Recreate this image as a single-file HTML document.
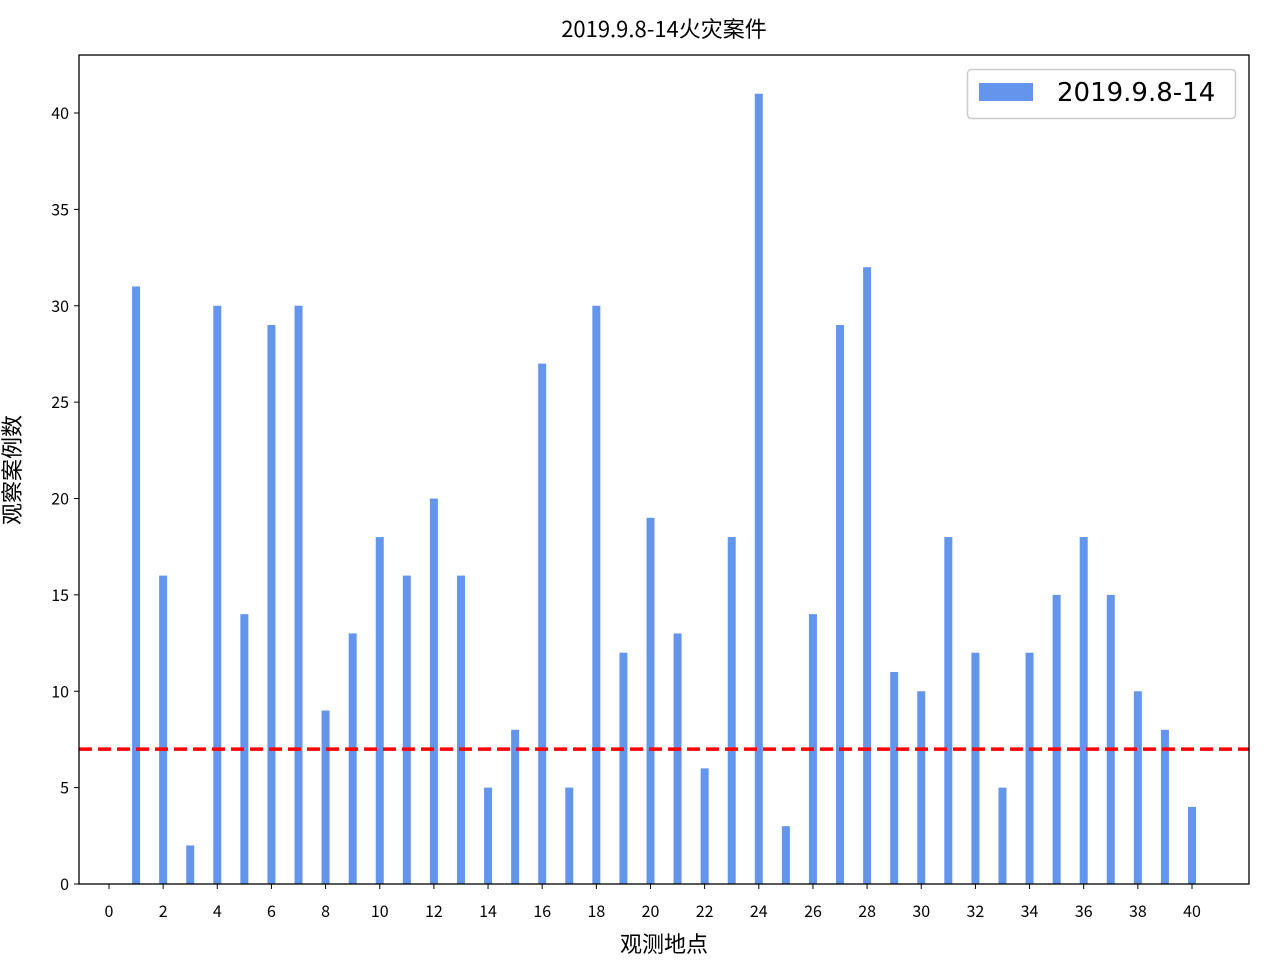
<!DOCTYPE html>
<html><head><meta charset="utf-8"><style>
body{margin:0;background:#fff}
svg text{font-family:"WenQuanYi Zen Hei","Noto Sans CJK SC",sans-serif;fill:#000}
svg text.leg{font-family:"DejaVu Sans",sans-serif}
</style></head><body>
<svg id="chart" width="1280" height="960" xmlns="http://www.w3.org/2000/svg">
<rect width="1280" height="960" fill="#fff"/>
<g id="plot"></g>
</svg>
<script>
const categories=[1,2,3,4,5,6,7,8,9,10,11,12,13,14,15,16,17,18,19,20,21,22,23,24,25,26,27,28,29,30,31,32,33,34,35,36,37,38,39,40];
const values=[31,16,2,30,14,29,30,9,13,18,16,20,16,5,8,27,5,30,12,19,13,6,18,41,3,14,29,32,11,10,18,12,5,12,15,18,15,10,8,4];
const xTicks=[0,2,4,6,8,10,12,14,16,18,20,22,24,26,28,30,32,34,36,38,40];
const yTicks=[0,5,10,15,20,25,30,35,40];
const refLine=[7];
const L=79,R=1249,T=55,B=884;
const xs=v=>109+v*27.075;
const ys=v=>884-v*19.275;
const NS="http://www.w3.org/2000/svg";
const g=document.getElementById('plot');
function mk(t,a,txt){const e=document.createElementNS(NS,t);for(const k in a)e.setAttribute(k,a[k]);if(txt!==undefined)e.textContent=txt;g.appendChild(e);return e;}
categories.forEach((c,i)=>{
 const el=mk('rect',{x:xs(c)-4,y:ys(values[i]),width:8,height:ys(0)-ys(values[i]),fill:'#6495ed'});
 
 
});
refLine.forEach(v=>{
 const el=mk('line',{x1:L,x2:R,y1:ys(v),y2:ys(v),stroke:'#ff0000','stroke-width':3.5,'stroke-dasharray':'13,6'});
 
 
});
const frame=mk('rect',{x:L,y:T,width:R-L,height:B-T,fill:'none',stroke:'#000','stroke-width':1.3});


xTicks.forEach(t=>{
 mk('line',{x1:xs(t),x2:xs(t),y1:B,y2:B+5,stroke:'#000','stroke-width':1});
 const el=mk('text',{x:xs(t),y:917,'font-size':16,'text-anchor':'middle'},t);
 
 
});
yTicks.forEach(t=>{
 mk('line',{x1:L-5,x2:L,y1:ys(t),y2:ys(t),stroke:'#000','stroke-width':1});
 const el=mk('text',{x:L-10,y:ys(t)+6,'font-size':16,'text-anchor':'end'},t);
 
 
});
let e=mk('text',{x:664,y:37,'font-size':22,'text-anchor':'middle'},'2019.9.8-14火灾案件');

e=mk('text',{x:664,y:952,'font-size':22,'text-anchor':'middle'},'观测地点');

e=mk('text',{x:0,y:0,'font-size':22,'text-anchor':'middle',transform:'translate(20,470) rotate(-90)'},'观察案例数');

e=mk('rect',{x:967.5,y:69.5,width:268,height:49,rx:4,fill:'#fff',stroke:'#ccc','stroke-width':1.5});

e=mk('rect',{x:979,y:83,width:54,height:18,fill:'#6495ed'});

e=mk('text',{x:1057,y:101,'font-size':26,'class':'leg'},'2019.9.8-14');

</script>
</body></html>
